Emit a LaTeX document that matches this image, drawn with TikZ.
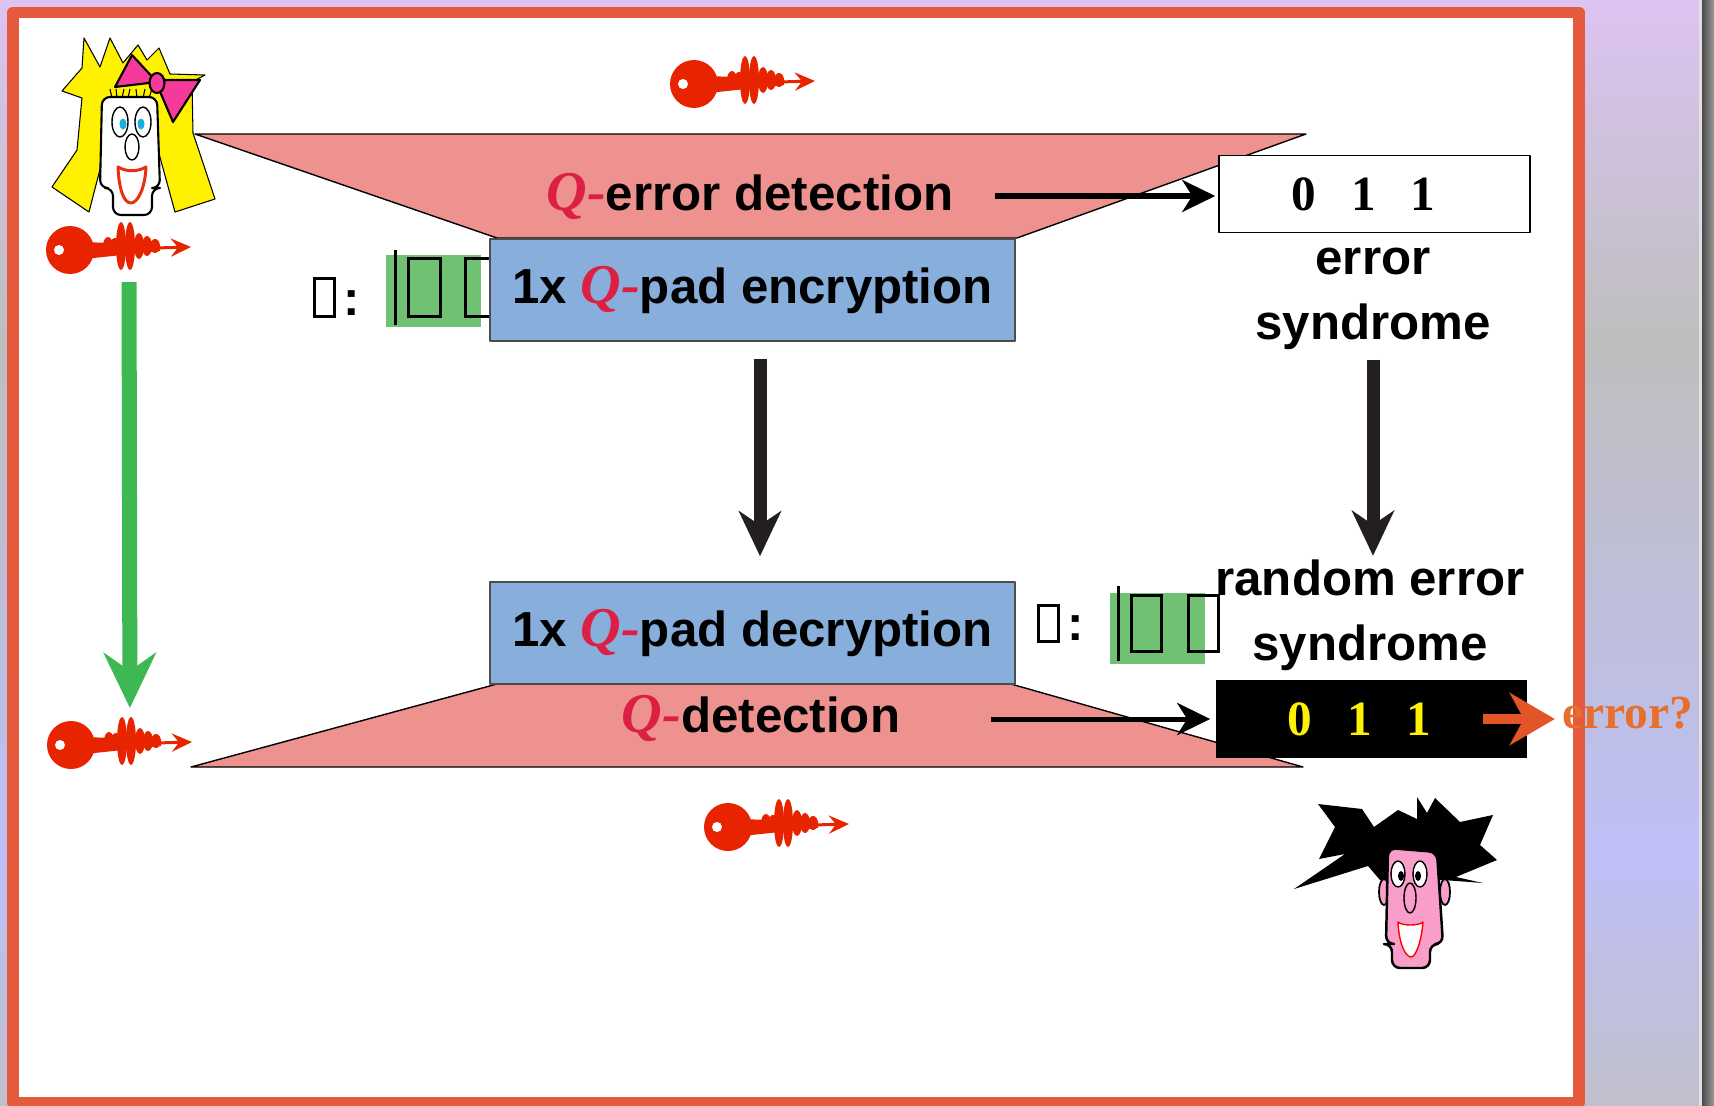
\documentclass[tikz,border=0pt]{standalone}
\usepackage{fontspec}
\setmainfont{Liberation Sans}
\newfontfamily\seriffont{Liberation Serif}
\usetikzlibrary{arrows.meta,positioning}

\definecolor{bgtop}{HTML}{DCC3F2}
\definecolor{bgmid}{HTML}{BEBEBE}
\definecolor{bgbot}{HTML}{BEBFF6}
\definecolor{bgend}{HTML}{C0C0CC}
\definecolor{edgedark}{HTML}{4A4A4A}
\definecolor{edgelight}{HTML}{9C9C9C}
\definecolor{framered}{HTML}{E55A3C}
\definecolor{trapink}{HTML}{EE9290}
\definecolor{padblue}{HTML}{88AEDB}
\definecolor{psigreen}{HTML}{70C172}
\definecolor{arrgreen}{HTML}{3DB852}
\definecolor{arrdark}{HTML}{231F20}
\definecolor{keyred}{HTML}{E82400}
\definecolor{qred}{HTML}{DC2044}
\definecolor{errorange}{HTML}{E86E2C}
\definecolor{arrorange}{HTML}{E25526}
\definecolor{hairyellow}{HTML}{FFF200}
\definecolor{bowpink}{HTML}{F43A9A}
\definecolor{eyeblue}{HTML}{1AAEE0}
\definecolor{skinpink}{HTML}{F99DCB}
\definecolor{mouthred}{HTML}{E83010}
\definecolor{digityellow}{HTML}{FFF200}

\newcommand\lblfont{\fontsize{14pt}{18.5pt}\selectfont\bfseries}
\newcommand\digitfont{\seriffont\fontsize{14pt}{16pt}\selectfont\bfseries}
\newcommand\Qsign{{\color{qred}\seriffont\fontsize{16pt}{18pt}\selectfont\bfseries\itshape Q-}}
\newcommand\tofu[2]{{\fboxsep=0pt\fboxrule=0.85pt\fbox{\rule{0pt}{#2}\rule{#1}{0pt}}}}

\tikzset{
  padbox/.style={draw=black!70, fill=padblue, minimum width=5.25cm, minimum height=1.02cm, inner sep=0pt, font=\lblfont},
  syndbox/.style={minimum width=3.11cm, minimum height=0.77cm, inner sep=0pt, font=\digitfont},
  lbl/.style={inner sep=0pt, font=\lblfont, align=center},
  psibox/.style={fill=psigreen, minimum width=0.95cm, minimum height=0.71cm, inner sep=0pt},
  blkarrow/.style={black, line width=0.05cm, -{Stealth[length=0.33cm, width=0.32cm, inset=0.1cm]}},
  dnarrow/.style={arrdark, line width=0.13cm, -{Stealth[length=0.45cm, width=0.42cm, inset=0.14cm]}},
  grnarrow/.style={arrgreen, line width=0.15cm, -{Stealth[length=0.55cm, width=0.52cm, inset=0.18cm]}},
  orarrow/.style={arrorange, line width=0.1cm, -{Stealth[length=0.45cm, width=0.52cm, inset=0.14cm]}},
  qkey/.pic={
    \fill[keyred] (0,0) circle (24);
    \fill[white] (-11,0) circle (5);
    \fill[keyred] (14,-8) -- (90,-5) -- (90,1) -- (14,9) -- cycle;
    \foreach \x/\r in {38/9, 45/8, 51/24, 60/24, 69/13, 77/10, 85/7}
      \fill[keyred] (\x,-4) ellipse (5 and \r);
    \draw[keyred, line width=0.03cm, -{Stealth[length=0.2cm, width=0.18cm, inset=0.07cm]}] (85,-2) -- (121,-3);
    \coordinate (-blade) at (59,0);
  }
}

\begin{document}
\begin{tikzpicture}[x=0.01cm, y=-0.01cm, line join=round]
\useasboundingbox (0,0) rectangle (1714,1106);
% slide background and frame
\shade[top color=bgtop, bottom color=bgmid] (0,0) rectangle (1714,340);
\shade[top color=bgmid, bottom color=bgbot] (0,339) rectangle (1714,860);
\shade[top color=bgbot, bottom color=bgend] (0,859) rectangle (1714,1106);
\fill[black!12] (1699,0) rectangle (1702,1106);
\shade[left color=edgedark, right color=edgelight] (1702,0) rectangle (1714,1106);
\draw[framered, line width=0.115cm, fill=white] (13,12.5) rectangle (1579,1102.5);

% detection funnels
\filldraw[fill=trapink, draw=black, line width=0.4pt] (195,134) -- (1306,134) -- (1017,238) -- (497,238) -- cycle;
\filldraw[fill=trapink, draw=black, line width=0.4pt] (497,684) -- (1011,684) -- (1303,767) -- (191,767) -- cycle;

% states
\node[lbl, anchor=base west] (rhoA) at (312,315) {\tofu{0.17cm}{0.35cm}\,:};
\node[psibox] (psiA) at (433.5,291) {};
\node[inner sep=0pt, anchor=base west] (psiAtxt) at (393,315)
  {\rule[-0.1cm]{0.85pt}{0.75cm}\hspace{0.1cm}\tofu{0.29cm}{0.55cm}\hspace{0.22cm}\tofu{0.29cm}{0.55cm}};
\node[lbl, anchor=base west] (rhoB) at (1036,640) {\tofu{0.17cm}{0.33cm}\,:};
\node[psibox] (psiB) at (1157.5,628.5) {};
\node[inner sep=0pt, anchor=base west] (psiBtxt) at (1116,650)
  {\rule[-0.11cm]{0.85pt}{0.75cm}\hspace{0.1cm}\tofu{0.27cm}{0.53cm}\hspace{0.24cm}\tofu{0.27cm}{0.53cm}};

% pad boxes and labels
\node[padbox] (enc) at (752.5,290) {1x \Qsign{}pad encryption};
\node[padbox] (dec) at (752.5,633) {1x \Qsign{}pad decryption};
\node[lbl, anchor=base] (errdet) at (750,210) {\Qsign{}error detection};
\node[lbl, anchor=base] (detlbl) at (761,732) {\Qsign{}detection};

% syndromes
\node[syndbox, draw=black, fill=white] (synd) at (1374.5,194) {0\hspace{10pt}1\hspace{10pt}1\rule{0.22cm}{0pt}};
\node[lbl] (synlbl) at (1373,299) {error\\syndrome};
\node[syndbox, fill=black, text=digityellow] (syndB) at (1371.5,719) {0\hspace{10pt}1\hspace{10pt}1\rule{0.24cm}{0pt}};
\node[lbl] (randlbl) at (1370,615) {random error\\syndrome};
\node[inner sep=0pt, text=errorange, font=\seriffont\fontsize{13.5pt}{16pt}\selectfont\bfseries] (errq) at (1628,713) {error?};

% arrows
\coordinate (e1) at (995,196);
\coordinate (d1) at (991,719);
\coordinate (o1) at ([xshift=-0.45cm]syndB.east);
\draw[blkarrow, shorten >=0.03cm] (e1) -- (e1 -| synd.west);
\draw[blkarrow, shorten >=0.05cm] (d1) -- (d1 -| syndB.west);
\draw[dnarrow, shorten <=0.17cm, shorten >=0.25cm] ([xshift=0.075cm]enc.south) -- ([xshift=0.075cm]dec.north);
\draw[dnarrow, shorten <=0.09cm, shorten >=0.03cm] (synlbl.south) -- (synlbl.south |- randlbl.north);
\draw[orarrow, shorten >=0.07cm] (o1) -- (o1 -| errq.west);

% keys
\pic (keyA) at (70,250) {qkey};
\pic (keyB) at (71,745) {qkey};
\pic (keyC) at (694,84) {qkey};
\pic (keyD) at (728,827) {qkey};
\draw[grnarrow, shorten <=0.32cm, shorten >=0.37cm] (keyA-blade) -- (keyB-blade);

% Alice
\filldraw[fill=hairyellow, draw=black, line width=0.3pt] (84,38) -- (100,67) -- (110,38) -- (123,63) -- (138,45) -- (147,60) -- (159,48) -- (170,74) -- (205,75) -- (192,82) -- (193,133) -- (215,199) -- (175,212) -- (158,150) -- (105,150) -- (89,212) -- (52,187) -- (77,150) -- (82,98) -- (62,91) -- (82,68) -- cycle;
\filldraw[fill=white, draw=black, line width=0.6pt, rounded corners=0.08cm] (102,97) -- (157,97) -- (160,188) -- (152,188) -- (152,215) -- (113,215) -- (113,188) -- (100,188) -- cycle;
\foreach \a/\b in {112/110, 117/116, 122/124, 128/130, 137/136, 143/145, 149/152}
  \draw[line width=0.3pt] (\a,98) -- (\b,89);
\filldraw[fill=white, draw=black, line width=0.4pt] (120,122) ellipse (8 and 15);
\filldraw[fill=white, draw=black, line width=0.4pt] (143,122) ellipse (8 and 15);
\fill[eyeblue] (123,124) ellipse (3.5 and 5.5);
\fill[eyeblue] (141,124) ellipse (3.5 and 5.5);
\filldraw[fill=white, draw=black, line width=0.4pt] (132,147) ellipse (7 and 13);
\filldraw[fill=white, draw=mouthred, line width=0.03cm] (118,167) .. controls (127,172) and (137,172) .. (146,167) .. controls (145,190) and (137,203) .. (131,203) .. controls (124,203) and (119,190) .. cycle;
\filldraw[fill=bowpink, draw=black, line width=0.6pt] (115,87) -- (132,55) -- (157,82) -- cycle;
\filldraw[fill=bowpink, draw=black, line width=0.6pt] (155,80) -- (200,80) -- (173,122) -- cycle;
\filldraw[fill=bowpink, draw=black, line width=0.6pt] (157,83) ellipse (7.5 and 10);

% Bob
\fill[black] (1294,889) -- (1345,854) -- (1319,859) -- (1335,827) -- (1318,804) -- (1362,809) -- (1374,827) -- (1398,810) -- (1417,819) -- (1417,797) -- (1427,813) -- (1435,798) -- (1460,822) -- (1493,815) -- (1480,845) -- (1497,860) -- (1456,877) -- (1483,883) -- (1443,880) -- (1380,880) -- (1368,866) -- cycle;
\filldraw[fill=skinpink, draw=black, line width=0.5pt] (1384,892) ellipse (5 and 13);
\filldraw[fill=skinpink, draw=black, line width=0.5pt] (1445,892) ellipse (5 and 13);
\filldraw[fill=skinpink, draw=black, line width=0.7pt, rounded corners=0.08cm] (1388,848) -- (1437,852) -- (1443,944) -- (1430,944) -- (1430,968) -- (1392,968) -- (1392,944) -- (1386,944) -- cycle;
\filldraw[fill=white, draw=black, line width=0.4pt] (1398,874) ellipse (7 and 13);
\filldraw[fill=white, draw=black, line width=0.4pt] (1420,874) ellipse (7 and 13);
\fill[black] (1401,876) ellipse (3 and 5);
\fill[black] (1418,876) ellipse (3 and 5);
\filldraw[fill=skinpink, draw=black, line width=0.4pt] (1410,898) ellipse (6 and 15);
\filldraw[fill=white, draw=red, line width=0.4pt] (1398,922) .. controls (1402,926) and (1419,926) .. (1423,922) .. controls (1421,945) and (1415,957) .. (1411,957) .. controls (1406,957) and (1399,945) .. cycle;
\end{tikzpicture}
\end{document}
